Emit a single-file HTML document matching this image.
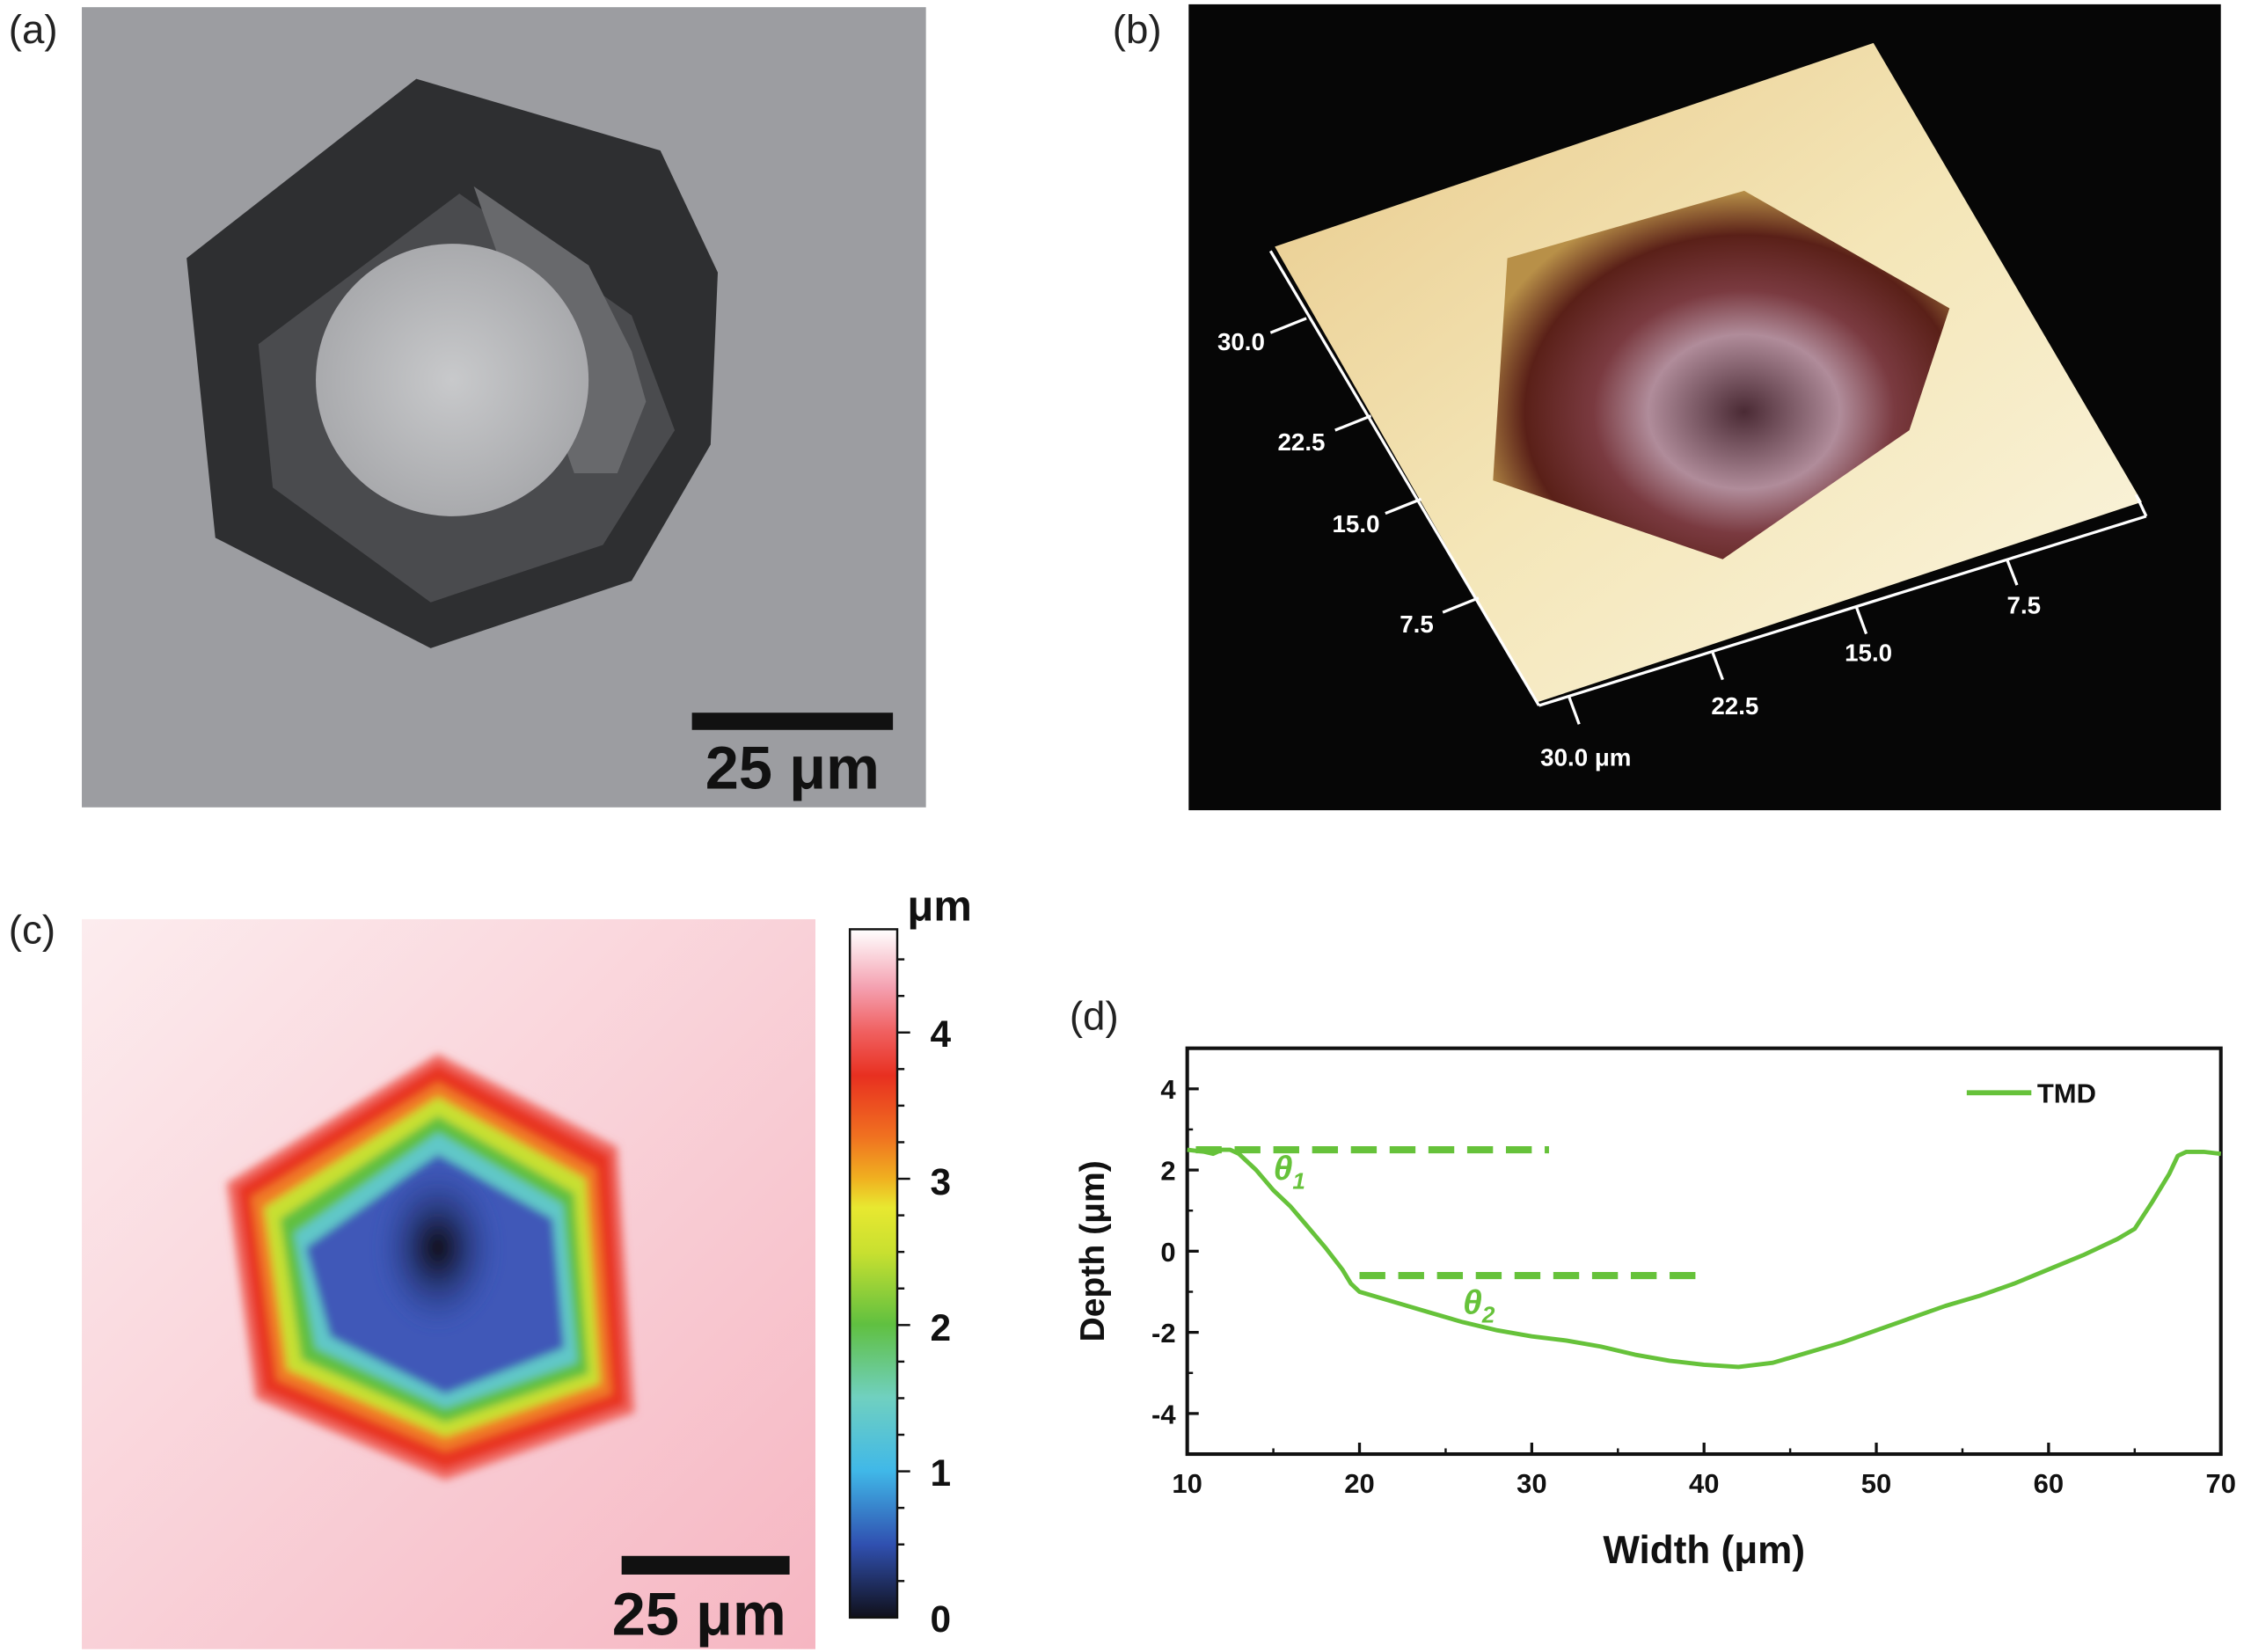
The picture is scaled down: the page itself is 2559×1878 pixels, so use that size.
<!DOCTYPE html>
<html><head><meta charset="utf-8"><style>
html,body{margin:0;padding:0;background:#fff;}
svg{display:block;font-family:"Liberation Sans",sans-serif;}
</style></head><body>
<svg id="fig" width="2559" height="1878" viewBox="0 0 1568 1152" preserveAspectRatio="none" xmlns="http://www.w3.org/2000/svg">
<defs>
<filter id="blur1"><feGaussianBlur stdDeviation="3"/></filter>
<radialGradient id="pitc" cx="0.5" cy="0.5" r="0.5"><stop offset="0" stop-color="#c8c9cb"/><stop offset="1" stop-color="#a9aaad"/></radialGradient>
<linearGradient id="surfb" x1="0" y1="0" x2="1" y2="1"><stop offset="0" stop-color="#e8c98a"/><stop offset="0.5" stop-color="#f4e6b8"/><stop offset="1" stop-color="#fbf6e2"/></linearGradient>
<radialGradient id="pitb" cx="0.55" cy="0.6" r="0.6"><stop offset="0" stop-color="#4a2a34"/><stop offset="0.35" stop-color="#b08c9a"/><stop offset="0.55" stop-color="#7a3a40"/><stop offset="0.8" stop-color="#5a2018"/><stop offset="1" stop-color="#b89048"/></radialGradient>
<linearGradient id="bgc" x1="0" y1="0" x2="1" y2="1"><stop offset="0" stop-color="#fcecee"/><stop offset="1" stop-color="#f6b6c2"/></linearGradient>
<radialGradient id="centc" cx="0.5" cy="0.5" r="0.5"><stop offset="0" stop-color="#101018"/><stop offset="0.35" stop-color="#25306a"/><stop offset="1" stop-color="#3050b0" stop-opacity="0"/></radialGradient>
<linearGradient id="cbar" x1="0" y1="1" x2="0" y2="0">
<stop offset="0" stop-color="#10101a"/><stop offset="0.106" stop-color="#3050b0"/><stop offset="0.213" stop-color="#40b8e8"/><stop offset="0.32" stop-color="#70d0c0"/><stop offset="0.426" stop-color="#60c040"/><stop offset="0.53" stop-color="#c8e030"/><stop offset="0.596" stop-color="#e8e830"/><stop offset="0.638" stop-color="#f0b020"/><stop offset="0.70" stop-color="#f07020"/><stop offset="0.787" stop-color="#e83020"/><stop offset="0.851" stop-color="#f06060"/><stop offset="0.915" stop-color="#f4a0b0"/><stop offset="1" stop-color="#ffffff"/></linearGradient>
</defs>

<g>
<text x="6" y="30" font-size="28" fill="#222">(a)</text>
<rect x="57" y="5" width="588" height="558" fill="#9c9da1"/>
<polygon points="290,55 460,105 500,190 495,310 440,405 300,452 150,375 130,180" fill="#2e2f31"/>
<polygon points="320,135 440,220 470,300 420,380 300,420 190,340 180,240" fill="#4a4b4e"/>
<polygon points="330,130 410,185 440,245 450,280 430,330 400,330" fill="#68696c"/>
<circle cx="315" cy="265" r="95" fill="url(#pitc)"/>
<rect x="482" y="497" width="140" height="12" fill="#111"/>
<text x="552" y="550" font-size="42" font-weight="bold" text-anchor="middle" fill="#111">25 μm</text>
</g>

<g>
<text x="775" y="30" font-size="28" fill="#222">(b)</text>
<rect x="828" y="3" width="719" height="562" fill="#060606"/>
<polygon points="888,172 1305,30 1492,350 1070,490" fill="url(#surfb)"/>
<polygon points="1050,180 1215,133 1358,215 1330,300 1200,390 1040,335" fill="url(#pitb)"/>
<g stroke="#fff" stroke-width="2" fill="none">
<line x1="885" y1="175" x2="1072" y2="492"/><line x1="1072" y1="492" x2="1495" y2="360"/>
<line x1="1495" y1="360" x2="1488" y2="345"/>
<line x1="885" y1="232" x2="910" y2="222"/><line x1="930" y1="300" x2="955" y2="290"/><line x1="965" y1="358" x2="990" y2="348"/><line x1="1005" y1="427" x2="1030" y2="417"/>
<line x1="1100" y1="505" x2="1093" y2="486"/><line x1="1200" y1="474" x2="1193" y2="455"/><line x1="1300" y1="442" x2="1293" y2="423"/><line x1="1405" y1="408" x2="1398" y2="390"/>
</g>
<g fill="#fff" font-size="17" font-weight="bold">
<text x="848" y="244">30.0</text><text x="890" y="314">22.5</text><text x="928" y="371">15.0</text><text x="975" y="441">7.5</text>
<text x="1073" y="534">30.0 μm</text><text x="1192" y="498">22.5</text><text x="1285" y="461">15.0</text><text x="1398" y="428">7.5</text>
</g>
</g>

<g>
<text x="6" y="658" font-size="28" fill="#222">(c)</text>
<rect x="57" y="641" width="511" height="509" fill="url(#bgc)"/>
<g filter="url(#blur1)">
<polygon points="305,735 430,800 442,985 310,1032 178,975 158,825" fill="#f06860"/>
<polygon points="305,742 425,805 436,980 310,1025 183,970 165,828" fill="#e83520"/>
<polygon points="305,755 415,815 426,972 310,1012 193,962 175,835" fill="#f07a25"/>
<polygon points="305,765 408,822 418,965 310,1002 200,955 184,842" fill="#c8e030"/>
<polygon points="305,778 400,832 410,958 310,992 210,948 195,850" fill="#60c040"/>
<polygon points="305,790 392,840 402,950 310,982 220,940 205,860" fill="#60c8c8"/>
<polygon points="305,805 385,850 393,940 310,972 230,932 213,870" fill="#3f58b8"/>
</g>
<ellipse cx="305" cy="870" rx="45" ry="60" fill="url(#centc)" filter="url(#blur1)"/>
<rect x="433" y="1085" width="117" height="13" fill="#111"/>
<text x="487" y="1140" font-size="42" font-weight="bold" text-anchor="middle" fill="#111">25 μm</text>
<rect x="592" y="648" width="33" height="480" fill="url(#cbar)" stroke="#111" stroke-width="1.5"/>
<g id="cbticks" stroke="#111" stroke-width="1.5"></g>
<g font-size="26" font-weight="bold" fill="#111">
<text x="648" y="730">4</text><text x="648" y="833">3</text><text x="648" y="935">2</text><text x="648" y="1036">1</text><text x="648" y="1138">0</text>
</g>
<text x="632" y="642" font-size="30" font-weight="bold" fill="#111">μm</text>
</g>

<g id="paneld">
<text x="745" y="718" font-size="28" fill="#222">(d)</text>
</g>
</svg>
<script>
const categoriesX = [10,11,11.5,12,12.5,13,14,15,16,17,18,19,19.5,20,22,24,26,28,30,32,34,36,38,40,42,44,46,48,50,52,54,56,58,60,62,64,65,66,67,67.5,68,69,70];
const depthValues = [2.5,2.45,2.4,2.5,2.5,2.4,2.0,1.5,1.1,0.6,0.1,-0.45,-0.8,-1.0,-1.25,-1.5,-1.75,-1.95,-2.1,-2.2,-2.35,-2.55,-2.7,-2.8,-2.85,-2.75,-2.5,-2.25,-1.95,-1.65,-1.35,-1.1,-0.8,-0.45,-0.1,0.3,0.55,1.2,1.9,2.35,2.45,2.45,2.4];
const xTicks = [10,20,30,40,50,60,70];
const yTicks = [-4,-2,0,2,4];
const dash1 = [10.5,31,2.5];
const dash2 = [20,39.7,-0.6];
const NS='http://www.w3.org/2000/svg';
const L=827,R=1547,T=731,B=1014;
const xs=v=>L+(v-10)/60*(R-L);
const ys=v=>B-(v+5)/10*(B-T);
const g=document.getElementById('paneld');
function mk(tag,attrs,parent){const e=document.createElementNS(NS,tag);for(const k in attrs)e.setAttribute(k,attrs[k]);(parent||g).appendChild(e);return e;}
let frame=mk('rect',{x:L,y:T,width:R-L,height:B-T,fill:'none',stroke:'#111','stroke-width':2.5});


xTicks.forEach(v=>{
  const t=mk('line',{x1:xs(v),x2:xs(v),y1:B,y2:B-8,stroke:'#111','stroke-width':2});
  
  
  const lb=mk('text',{x:xs(v),y:B+27,'text-anchor':'middle','font-size':19,'font-weight':'bold',fill:'#111'});
  lb.textContent=v;
  
  
});
xTicks.slice(0,-1).forEach(v=>{mk('line',{x1:xs(v+5),x2:xs(v+5),y1:B,y2:B-4,stroke:'#111','stroke-width':1.5});});
yTicks.forEach(v=>{
  const t=mk('line',{x1:L,x2:L+8,y1:ys(v),y2:ys(v),stroke:'#111','stroke-width':2});
  
  
  const lb=mk('text',{x:L-8,y:ys(v)+7,'text-anchor':'end','font-size':19,'font-weight':'bold',fill:'#111'});
  lb.textContent=v;
  
  
  mk('line',{x1:L,x2:L+4,y1:ys(v+1),y2:ys(v+1),stroke:'#111','stroke-width':1.5});
});
const xt=mk('text',{x:(L+R)/2,y:1090,'text-anchor':'middle','font-size':27,'font-weight':'bold',fill:'#111'});
xt.textContent='Width (μm)';


const yt=mk('text',{x:0,y:0,'text-anchor':'middle','font-size':24,'font-weight':'bold',fill:'#111',transform:`translate(769,${(T+B)/2}) rotate(-90)`});
yt.textContent='Depth (μm)';


let d='';categoriesX.forEach((v,i)=>{d+=(i?'L':'M')+xs(v).toFixed(1)+','+ys(depthValues[i]).toFixed(1);});
const ln=mk('path',{d:d,fill:'none',stroke:'#66c23a','stroke-width':3,'stroke-linejoin':'round'});


[dash1,dash2].forEach((a,i)=>{
  const dl=mk('line',{x1:xs(a[0]),x2:xs(a[1]),y1:ys(a[2]),y2:ys(a[2]),stroke:'#66c23a','stroke-width':5,'stroke-dasharray':'18,9'});
  
  
});
[[15,1.75,'1'],[26,-1.55,'2']].forEach(p=>{
  const t=mk('text',{x:xs(p[0]),y:ys(p[1]),'font-size':24,'font-weight':'bold','font-style':'italic',fill:'#66c23a'});
  t.innerHTML='θ<tspan font-size="16" dy="6">'+p[2]+'</tspan>';
  
  
});
const lg=mk('line',{x1:1370,x2:1415,y1:762,y2:762,stroke:'#66c23a','stroke-width':3.5});


const lt=mk('text',{x:1419,y:769,'font-size':19,'font-weight':'bold',fill:'#111'});
lt.textContent='TMD';


const cb=document.getElementById('cbticks');
for(let v=0.25;v<4.7;v+=0.25){mk('line',{x1:625,x2:(Math.abs(v-Math.round(v))<0.01)?634:630,y1:1128-v*102,y2:1128-v*102},cb);}
</script>
</body></html>
